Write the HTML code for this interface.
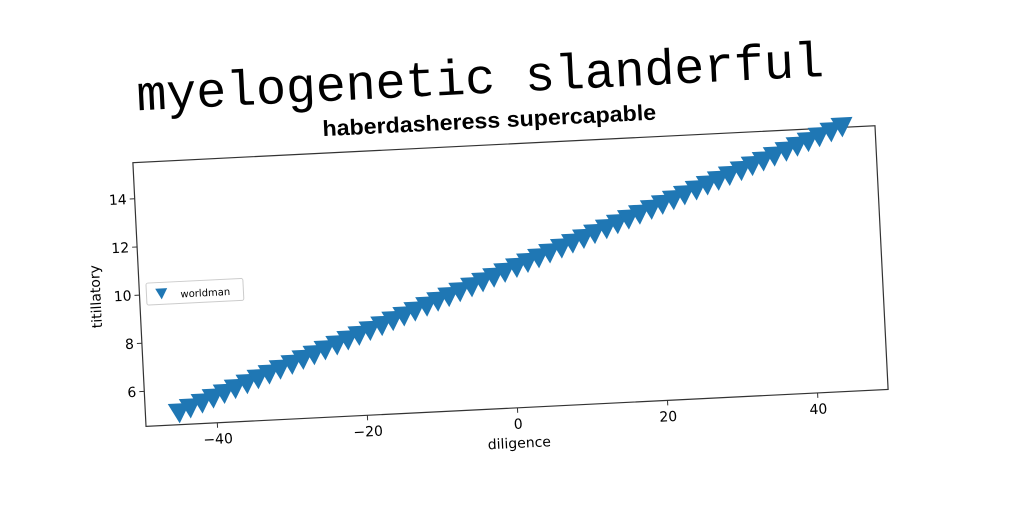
<!DOCTYPE html>
<html><head><meta charset="utf-8"><style>
body{margin:0;background:#fff;width:1024px;height:512px;overflow:hidden}
text{font-family:"DejaVu Sans","Liberation Sans",sans-serif}
</style></head><body>
<svg id="chart" width="1024" height="512" viewBox="0 0 1024 512" xmlns="http://www.w3.org/2000/svg">
<g transform="rotate(-2.85 511 276)" id="root">
<text x="490" y="92" text-anchor="middle" font-size="50" textLength="688" style="font-family:'Liberation Mono',monospace" fill="#000">myelogenetic slanderful</text>
<text x="497" y="127" text-anchor="middle" font-size="22" font-weight="bold" textLength="334" lengthAdjust="spacingAndGlyphs" style="font-family:'Liberation Sans Narrow','Liberation Sans',sans-serif" fill="#000">haberdasheress supercapable</text>
<rect x="139" y="144" width="743" height="264" fill="none" stroke="#333" stroke-width="1.2"/>
<g id="marks"></g>
<g id="xticks"></g>
<g id="yticks"></g>
<text x="511" y="448" text-anchor="middle" font-size="14">diligence</text>
<text transform="translate(100 276) rotate(-90)" text-anchor="middle" font-size="14">titillatory</text>
<g>
<rect x="146" y="265" width="97" height="22" fill="#fff" stroke="#ccc" rx="2"/>
<path d="M155 271 L167 271 L161 282 Z" fill="#1f77b4"/>
<text x="180" y="281" font-size="10">worldman</text>
</g>
</g>
</svg>
<script>
const xs=[-45,-43.5,-41.9,-40.4,-38.9,-37.4,-35.8,-34.3,-32.8,-31.3,-29.7,-28.2,-26.7,-25.2,-23.6,-22.1,-20.6,-19.1,-17.5,-16,-14.5,-13,-11.4,-9.9,-8.4,-6.9,-5.3,-3.8,-2.3,-0.8,0.8,2.3,3.8,5.3,6.9,8.4,9.9,11.4,13,14.5,16,17.5,19.1,20.6,22.1,23.6,25.2,26.7,28.2,29.7,31.3,32.8,34.3,35.8,37.4,38.9,40.4,41.9,43.5,45];
const ys=[5.1,5.28,5.46,5.64,5.81,5.99,6.17,6.35,6.52,6.7,6.88,7.06,7.23,7.41,7.59,7.77,7.94,8.12,8.3,8.48,8.65,8.83,9.01,9.19,9.36,9.54,9.72,9.9,10.07,10.25,10.43,10.61,10.78,10.96,11.14,11.32,11.49,11.67,11.85,12.03,12.2,12.38,12.56,12.74,12.91,13.09,13.27,13.45,13.62,13.8,13.98,14.16,14.33,14.51,14.69,14.87,15.04,15.22,15.4,15.58];
const xTicks=[-40,-20,0,20,40];
const xTickLabels=["−40","−20","0","20","40"];
const yTicks=[6,8,10,12,14];
const yTickLabels=["6","8","10","12","14"];
const X0=139,X1=882,Y0=144,Y1=408,xmin=-49.5,xmax=49.4,ymin=4.55,ymax=15.5;
const sx=v=>X0+(v-xmin)/(xmax-xmin)*(X1-X0);
const sy=v=>Y1-(v-ymin)/(ymax-ymin)*(Y1-Y0);
const NS="http://www.w3.org/2000/svg";
const marks=document.getElementById('marks');
xs.forEach((x,i)=>{
 const p=document.createElementNS(NS,'path');
 const cx=sx(x),cy=sy(ys[i]);
 p.setAttribute('d',`M${cx-11} ${cy-8} L${cx+11} ${cy-8} L${cx} ${cy+12} Z`);
 p.setAttribute('fill','#1f77b4');
 
 
 marks.appendChild(p);
});
const xt=document.getElementById('xticks');
xTicks.forEach((t,i)=>{
 const x=sx(t);
 const l=document.createElementNS(NS,'line');
 l.setAttribute('x1',x);l.setAttribute('x2',x);l.setAttribute('y1',Y1);l.setAttribute('y2',Y1+5);l.setAttribute('stroke','#333');
 
 
 xt.appendChild(l);
 const tx=document.createElementNS(NS,'text');
 tx.setAttribute('x',x);tx.setAttribute('y',Y1+21);tx.setAttribute('text-anchor','middle');tx.setAttribute('font-size','14');
 tx.textContent=xTickLabels[i];
 
 
 xt.appendChild(tx);
});
const yt=document.getElementById('yticks');
yTicks.forEach((t,i)=>{
 const y=sy(t);
 const l=document.createElementNS(NS,'line');
 l.setAttribute('x1',X0-5);l.setAttribute('x2',X0);l.setAttribute('y1',y);l.setAttribute('y2',y);l.setAttribute('stroke','#333');
 
 
 yt.appendChild(l);
 const tx=document.createElementNS(NS,'text');
 tx.setAttribute('x',X0-8);tx.setAttribute('y',y+5);tx.setAttribute('text-anchor','end');tx.setAttribute('font-size','14');
 tx.textContent=yTickLabels[i];
 
 
 yt.appendChild(tx);
});
</script>
</body></html>
